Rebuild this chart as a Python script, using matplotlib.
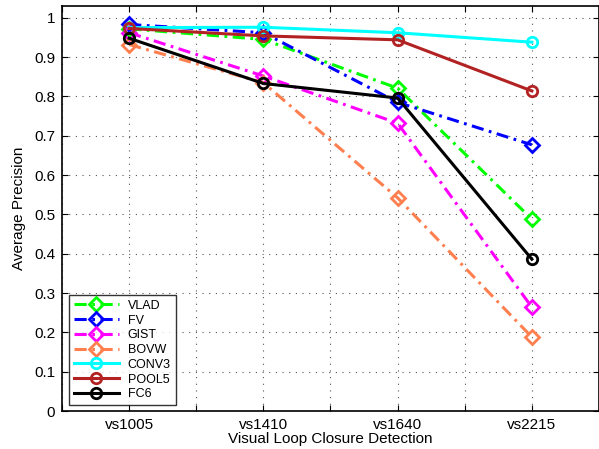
import matplotlib
matplotlib.use("Agg")
import matplotlib.pyplot as plt
import numpy as np

plt.rcParams['font.family'] = ['Liberation Sans', 'DejaVu Sans']

categories = ["vs1005", "vs1410", "vs1640", "vs2215"]
vlad = [0.972, 0.945, 0.821, 0.488]
fv = [0.983, 0.962, 0.785, 0.677]
gist = [0.962, 0.852, 0.732, 0.264]
bovw = [0.932, 0.835, 0.542, 0.188]
conv3 = [0.975, 0.976, 0.962, 0.938]
pool5 = [0.973, 0.954, 0.944, 0.814]
fc6 = [0.948, 0.833, 0.796, 0.386]

series = [
    ("VLAD", vlad, "#00ff00", "dashdot", "D"),
    ("FV", fv, "#0000ff", "dashdot", "D"),
    ("GIST", gist, "#ff00ff", "dashdot", "D"),
    ("BOVW", bovw, "#ff7f4f", "dashdot", "D"),
    ("CONV3", conv3, "#00ffff", "solid", "o"),
    ("POOL5", pool5, "#b22222", "solid", "o"),
    ("FC6", fc6, "#000000", "solid", "o"),
]

fig = plt.figure(figsize=(5.99, 4.49), dpi=100)
ax = fig.add_axes([0.1035, 0.0846, 0.8965, 0.902])
x = np.arange(1, len(categories) + 1)
for name, vals, col, ls, mk in series:
    if ls == "dashdot":
        style = (0, (4, 1.8, 0.9, 1.8))
    else:
        style = "-"
    ax.plot(x, vals, linestyle=style, color=col, lw=2.2, marker=mk,
            markersize=7 if mk == "D" else 7.5, mfc="none", mec=col, mew=2, label=name)

ax.set_xlim(0.5, 4.5)
ax.set_ylim(0, 1.03)
xt = np.arange(0.5, 4.51, 0.5)
ax.set_xticks(xt)
ax.set_xticklabels([categories[int(v) - 1] if abs(v - round(v)) < 1e-9 and 1 <= v <= 4 else "" for v in xt])
yt = np.round(np.arange(0, 1.001, 0.1), 1)
ax.set_yticks(yt)
ax.set_yticklabels(["0" if v == 0 else ("1" if v == 1 else f"{v:.1f}") for v in yt])
ax.tick_params(direction="in", top=True, right=True, labelsize=11, length=4, width=0.8, pad=5)
ax.grid(True, linestyle=(0, (1, 5)), color="#555555", lw=0.8)
for s in ax.spines.values():
    s.set_linewidth(1.2)
ax.set_xlabel("Visual Loop Closure Detection", fontsize=11, labelpad=0)
ax.set_ylabel("Average Precision", fontsize=11, labelpad=6)

leg = ax.legend(loc="lower left", bbox_to_anchor=(0.008, 0.008), fontsize=9, handlelength=3.6,
                frameon=True, fancybox=False, edgecolor="black", borderpad=0.4,
                labelspacing=0.22, handletextpad=0.7, borderaxespad=0.2)
leg.get_frame().set_linewidth(1.0)

fig.savefig("out.png", dpi=100)
